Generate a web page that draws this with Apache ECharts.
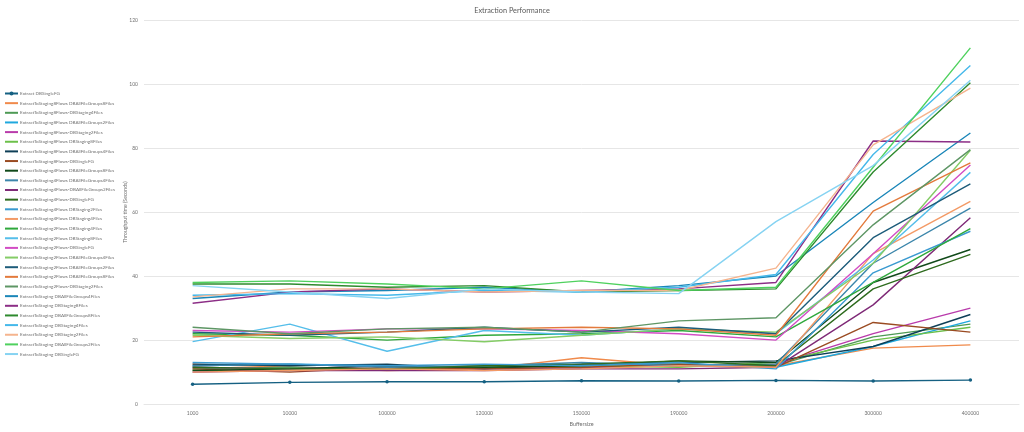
<!DOCTYPE html>
<html><head><meta charset="utf-8">
<script src="https://cdn.jsdelivr.net/npm/echarts@6/dist/echarts.min.js"></script>
<style>html,body{margin:0;padding:0;background:#fff}#c{width:1024px;height:432px}</style>
</head><body><div id="c"></div>
<script>
const categories = ['1000','10000','100000','120000','150000','190000','200000','300000','400000'];
const seriesNames = [
 'Extract DBSingleFG',
 'ExtractToStaging8Flows DBAllFileGroups8Files',
 'ExtractToStaging8Flows-DBStaging4Files',
 'ExtractToStaging8Flows DBAllFileGroups2Files',
 'ExtractToStaging8Flows-DBStaging2Files',
 'ExtractToStaging8Flows DBStaging8Files',
 'ExtractToStaging8Flows DBAllFileGroups4Files',
 'ExtractToStaging8Flows-DBSingleFG',
 'ExtractToStaging4Flows DBAllFileGroups8Files',
 'ExtractToStaging4Flows DBAllFileGroups4Files',
 'ExtractToStaging4Flows-DBAllFileGroups2Files',
 'ExtractToStaging4Flows-DBSingleFG',
 'ExtractToStaging4Flows DBStaging2Files',
 'ExtractToStaging4Flows DBStaging4Files',
 'ExtractToStaging2Flows DBStaging4Files',
 'ExtractToStaging2Flows DBStaging8Files',
 'ExtractToStaging2Flows-DBSingleFG',
 'ExtractToStaging2Flows DBAllFileGroups4Files',
 'ExtractToStaging2Flows DBAllFileGroups2Files',
 'ExtractToStaging2Flows DBAllFileGroups8Files',
 'ExtractToStaging2Flows-DBStaging2Files',
 'ExtractToStaging DBAllFileGroups4Files',
 'ExtractToStaging DBStaging8Files',
 'ExtractToStaging DBAllFileGroups8Files',
 'ExtractToStaging DBStaging4Files',
 'ExtractToStaging DBStaging2Files',
 'ExtractToStaging DBAllFileGroups2Files',
 'ExtractToStaging DBSingleFG'
];
const colors = [
 '#156082','#F08A4B','#4E9A55','#1FA8DE','#B93BAB','#6CC04A','#0E3F57','#9A4B22',
 '#114A1A','#3C86AB','#7F2A77','#2E6B1E','#3A9AD0','#F39A66','#2FA83C','#55BEEA',
 '#D24CC4','#84CC66','#1D5C7A','#E37A3C','#5E9665','#1A86B8','#8C2E86','#2E8A2E',
 '#45B8EA','#F5B48E','#4FD15E','#86D3F2'
];
const v00 = [6.2, 6.8, 7.0, 7.0, 7.3, 7.2, 7.4, 7.2, 7.5];
const v01 = [12.5, 11.5, 10.5, 11, 14.5, 12, 12, 17.5, 18.5];
const v02 = [11, 11.5, 11, 11.5, 12, 12.5, 12, 21, 25];
const v03 = [12, 12.5, 12, 11, 11.5, 12, 11.5, 18, 26];
const v04 = [11.5, 11, 12, 11, 11.5, 12, 12.5, 22, 30];
const v05 = [10.5, 10.5, 11, 11.5, 12, 11.5, 13, 20, 24];
const v06 = [12.5, 12, 12.5, 11, 12.5, 13, 13.5, 18, 28];
const v07 = [11, 10, 11.5, 11, 11.5, 12.5, 11.5, 25.5, 22.5];
const v08 = [10.5, 11, 12, 11.5, 12, 13.5, 13, 38, 48.3];
const v09 = [12, 12.5, 11.5, 12, 13, 12, 12.5, 44, 61.2];
const v10 = [10, 10.5, 10.5, 10.5, 11, 11, 11.5, 31, 58.2];
const v11 = [11.5, 11, 11, 12, 12.5, 13.5, 12, 36, 46.8];
const v12 = [13, 12.5, 12, 12.5, 12, 13, 11, 41, 54];
const v13 = [10, 10.5, 11, 10.5, 11, 12, 11.5, 47, 63.3];
const v14 = [22, 21.5, 20, 21.5, 22, 23, 21, 38, 54.8];
const v15 = [19.5, 25, 16.5, 23, 21.5, 23.5, 22, 45, 72.4];
const v16 = [23, 22.5, 23.5, 23.5, 23, 22, 20, 47, 74.7];
const v17 = [21.5, 20.5, 21, 19.5, 21.5, 23.5, 22.5, 44, 79.3];
const v18 = [22.5, 21.5, 22.5, 24, 22.5, 24, 22, 52, 68.8];
const v19 = [21, 22, 22.5, 23.5, 24, 23.5, 21.5, 60.3, 75.4];
const v20 = [24, 22, 23.5, 24, 22.5, 26, 27, 56, 79.5];
const v21 = [33, 35, 35.5, 36.5, 35, 37, 40, 63, 84.7];
const v22 = [31.5, 35, 36, 35, 35.5, 36, 38, 82.2, 81.9];
const v23 = [37.5, 37.5, 36.5, 37, 35, 35.5, 36, 72.5, 100.4];
const v24 = [34, 34.5, 34, 35.5, 35, 36.5, 40.5, 78, 105.8];
const v25 = [33.5, 36, 36, 35, 35.5, 35.5, 42.5, 81, 98.7];
const v26 = [38, 38.5, 37.5, 36, 38.5, 35.5, 36.5, 74, 111.3];
const v27 = [37, 35, 33, 36, 35, 34.5, 57, 74.5, 101.2];
const allValues = [v00,v01,v02,v03,v04,v05,v06,v07,v08,v09,v10,v11,v12,v13,v14,v15,v16,v17,v18,v19,v20,v21,v22,v23,v24,v25,v26,v27];
const yTicks = [0, 20, 40, 60, 80, 100, 120];

const chart = echarts.init(document.getElementById('c'), null, {renderer: 'canvas'});
const FONT = 'Lato, "Open Sans", sans-serif';
const series = seriesNames.map((n, i) => ({
  name: n, type: 'line', data: allValues[i],
  symbol: i === 0 ? 'circle' : 'none', symbolSize: 3.5,
  showSymbol: i === 0,
  lineStyle: {width: 1.4, color: colors[i]},
  itemStyle: {color: colors[i]},
  emphasis: {disabled: true},
  animation: false
}));
chart.setOption({
  animation: false,
  color: colors,
  title: {text: 'Extraction Performance', left: 'center', top: 2,
    textStyle: {fontFamily: FONT, fontSize: 7.3, fontWeight: 'normal', color: '#595959'}},
  legend: {orient: 'vertical', left: 4, top: 91, padding: 0, itemWidth: 13, itemHeight: 5, itemGap: 4.65,
    textStyle: {fontFamily: FONT, fontSize: 4.6, color: '#707070', padding: [0,0,0,-3]},
    data: seriesNames.map((n, i) => ({name: n, itemStyle: i === 0 ? {color: colors[i]} : {color: colors[i], opacity: 0}}))},
  grid: {left: 144, right: 5, top: 20, bottom: 24, containLabel: false},
  xAxis: {type: 'category', data: categories, boundaryGap: true,
    name: 'Buffersize', nameLocation: 'middle', nameGap: 13,
    nameTextStyle: {fontFamily: FONT, fontSize: 5.5, color: '#707070'},
    axisLine: {show: true, lineStyle: {color: '#e6e6e6'}}, axisTick: {show: false},
    axisLabel: {fontFamily: FONT, fontSize: 5, color: '#707070', margin: 7}},
  yAxis: {type: 'value', min: 0, max: 120, interval: 20,
    name: 'Throughput time (Seconds)', nameLocation: 'middle', nameGap: 16, nameMoveOverlap: false,
    nameTextStyle: {fontFamily: FONT, fontSize: 5.2, color: '#707070'},
    axisLine: {show: false}, axisTick: {show: false},
    axisLabel: {fontFamily: FONT, fontSize: 5, color: '#707070', margin: 6},
    splitLine: {lineStyle: {color: '#e6e6e6', width: 1}}},
  series: series
});
</script></body></html>
